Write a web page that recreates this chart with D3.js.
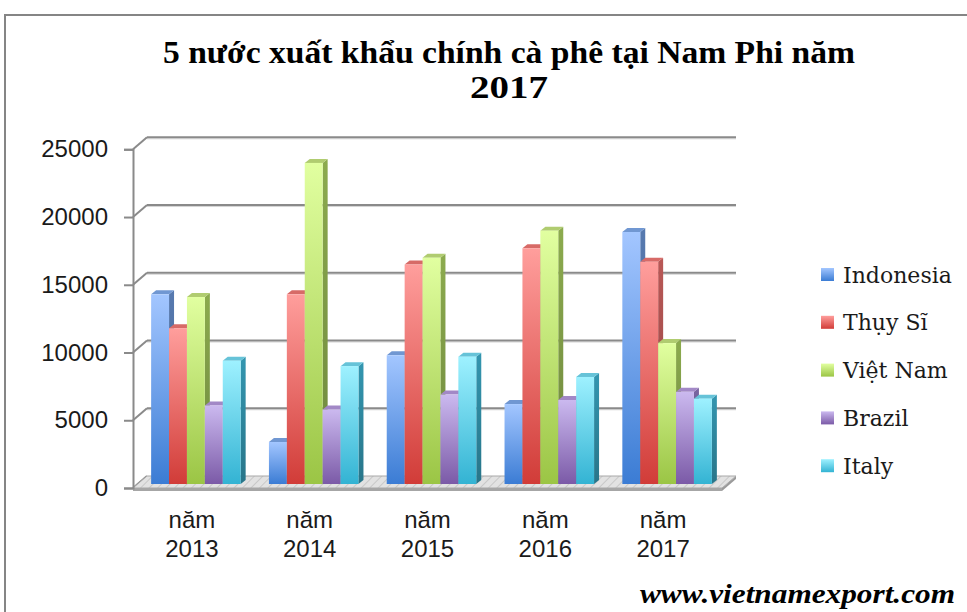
<!DOCTYPE html>
<html>
<head>
<meta charset="utf-8">
<script src="https://cdn.jsdelivr.net/npm/d3@7/dist/d3.min.js"></script>
<style>
    body { margin: 0; background: #fff; }
    svg { display: block; }
</style>
</head>
<body>
<svg id="chart"></svg>
<script>
var years = ["2013", "2014", "2015", "2016", "2017"];
var yearPrefix = "năm";
var countries = ["Indonesia", "Thụy Sĩ", "Việt Nam", "Brazil", "Italy"];
var indonesia = [14000, 3100, 9500, 5900, 18600];
var thuySi = [11500, 14000, 16200, 17400, 16400];
var vietNam = [13800, 23700, 16700, 18700, 10400];
var brazil = [5800, 5500, 6600, 6200, 6800];
var italy = [9100, 8700, 9400, 7900, 6300];
var yTicks = [0, 5000, 10000, 15000, 20000, 25000];
var titleLines = ["5 nước xuất khẩu chính cà phê tại Nam Phi năm", "2017"];
var watermark = "www.vietnamexport.com";

var seriesValues = [indonesia, thuySi, vietNam, brazil, italy];

// colours per series: front top, front bottom, side, top face
var palette = [
    {hi: "#a3c6ff", lo: "#3b7cd4", side: "#4e6e9e", top: "#7097d2"},
    {hi: "#ff9e9c", lo: "#d13c38", side: "#a64f4d", top: "#d76a67"},
    {hi: "#e1ffa0", lo: "#9bc545", side: "#7e9a46", top: "#b0cc70"},
    {hi: "#cbb9ef", lo: "#7b5aa7", side: "#6e5b91", top: "#a288c6"},
    {hi: "#9ef1ff", lo: "#33b3d3", side: "#2e879e", top: "#66c3d8"}
];

var width = 967, height = 612;
var svg = d3.select("#chart").attr("width", width).attr("height", height);

var front = {left: 133, right: 722, bottom: 488, top: 149.3};
var depth = {dx: 14, dy: 12};
var barOff = {dx: 4, dy: 4};
var barDepth = {dx: 5, dy: 4};

var x = d3.scaleBand().domain(years).range([front.left, front.right]).paddingInner(0.24).paddingOuter(0.12);
var xSub = d3.scaleBand().domain(countries).range([0, x.bandwidth()]);
var y = d3.scaleLinear().domain([0, 25000]).range([front.bottom, front.top]);

var defs = svg.append("defs");
palette.forEach(function (c, i) {
    var g = defs.append("linearGradient").attr("id", "front" + i)
        .attr("x1", 0).attr("y1", 0).attr("x2", 0).attr("y2", 1);
    g.append("stop").attr("offset", "0%").attr("stop-color", c.hi);
    g.append("stop").attr("offset", "100%").attr("stop-color", c.lo);
    var s = defs.append("linearGradient").attr("id", "side" + i)
        .attr("x1", 0).attr("y1", 0).attr("x2", 0).attr("y2", 1);
    s.append("stop").attr("offset", "0%").attr("stop-color", d3.color(c.side).brighter(0.3));
    s.append("stop").attr("offset", "100%").attr("stop-color", d3.color(c.side).darker(0.4));
});
var pat = defs.append("pattern").attr("id", "floorPat").attr("patternUnits", "userSpaceOnUse")
    .attr("width", 6).attr("height", 6).attr("patternTransform", "rotate(45)");
pat.append("rect").attr("width", 6).attr("height", 6).attr("fill", "#e2e2e2");
pat.append("line").attr("x1", 0).attr("y1", 0).attr("x2", 0).attr("y2", 6)
    .attr("stroke", "#c8c8c8").attr("stroke-width", 2);

// outer frame
svg.append("path").attr("d", "M5,612 L5,15 L967,15")
    .attr("fill", "none").attr("stroke", "#858585").attr("stroke-width", 2);

// title
svg.selectAll(".title").data(titleLines).enter().append("text")
    .attr("class", "title")
    .attr("x", 509)
    .attr("y", function (d, i) { return i == 0 ? 63 : 98; })
    .attr("text-anchor", "middle")
    .attr("font-family", "Liberation Serif, serif")
    .attr("font-weight", "bold")
    .attr("font-size", 31)
    .attr("fill", "#000")
    .attr("textLength", function (d, i) { return i == 0 ? 692 : 78; })
    .attr("lengthAdjust", "spacingAndGlyphs")
    .text(function (d) { return d; });

// back wall gridlines + side wall lines
var grid = svg.append("g");
yTicks.forEach(function (t) {
    var yf = y(t), yb = y(t) - depth.dy;
    if (t > 0) {
        grid.append("line")
            .attr("x1", front.left + depth.dx).attr("x2", front.right + depth.dx)
            .attr("y1", yb + 1.5).attr("y2", yb + 1.5)
            .attr("stroke", "#d4d4d4").attr("stroke-width", 1);
        grid.append("line")
            .attr("x1", front.left + depth.dx).attr("x2", front.right + depth.dx)
            .attr("y1", yb).attr("y2", yb)
            .attr("stroke", "#8a8a8a").attr("stroke-width", 2);
    }
    grid.append("line")
        .attr("x1", front.left).attr("y1", yf)
        .attr("x2", front.left + depth.dx).attr("y2", yb)
        .attr("stroke", "#8a8a8a").attr("stroke-width", 2);
});

// floor
var floorPts = [
    [front.left, front.bottom], [front.right, front.bottom],
    [front.right + depth.dx, front.bottom - depth.dy], [front.left + depth.dx, front.bottom - depth.dy]
];
svg.append("polygon")
    .attr("points", [[front.left, front.bottom], [front.right, front.bottom],
        [front.right, front.bottom + 3], [front.left, front.bottom + 3]].join(" "))
    .attr("fill", "#a6a6a6");
svg.append("polygon")
    .attr("points", [[front.right, front.bottom], [front.right + depth.dx, front.bottom - depth.dy],
        [front.right + depth.dx, front.bottom - depth.dy + 3], [front.right, front.bottom + 3]].join(" "))
    .attr("fill", "#9a9a9a");
svg.append("polygon").attr("points", floorPts.join(" "))
    .attr("fill", "url(#floorPat)").attr("stroke", "#a8a8a8").attr("stroke-width", 1);

// y axis
var yAxis = d3.axisLeft(y).tickValues(yTicks).tickSize(9).tickPadding(16).tickFormat(d3.format("d"));
var ya = svg.append("g").attr("transform", "translate(" + front.left + ",0)").call(yAxis);
ya.select(".domain").attr("stroke", "#8a8a8a").attr("stroke-width", 2);
ya.selectAll(".tick line").attr("stroke", "#8a8a8a").attr("stroke-width", 2);
ya.selectAll(".tick text")
    .attr("font-family", "Liberation Sans, Arial, sans-serif")
    .attr("font-size", 24).attr("fill", "#1a1a1a");

// bars
var bars = svg.append("g");
years.forEach(function (yr, j) {
    countries.forEach(function (c, i) {
        var v = seriesValues[i][j];
        var bx = x(yr) + xSub(c) + barOff.dx;
        var bw = xSub.bandwidth();
        var yb = y(0) - barOff.dy;
        var yt = y(v) - barOff.dy;
        var g = bars.append("g");
        g.append("polygon")
            .attr("points", [[bx + bw, yt], [bx + bw + barDepth.dx, yt - barDepth.dy],
                [bx + bw + barDepth.dx, yb - barDepth.dy], [bx + bw, yb]].join(" "))
            .attr("fill", "url(#side" + i + ")");
        g.append("polygon")
            .attr("points", [[bx, yt], [bx + barDepth.dx, yt - barDepth.dy],
                [bx + bw + barDepth.dx, yt - barDepth.dy], [bx + bw, yt]].join(" "))
            .attr("fill", palette[i].top);
        g.append("rect")
            .attr("x", bx).attr("y", yt)
            .attr("width", bw).attr("height", yb - yt)
            .attr("fill", "url(#front" + i + ")");
    });
});

// x labels
var xl = svg.append("g");
years.forEach(function (yr) {
    var t = xl.append("text")
        .attr("x", x(yr) + x.bandwidth() / 2)
        .attr("text-anchor", "middle")
        .attr("font-family", "Liberation Sans, Arial, sans-serif")
        .attr("font-size", 24).attr("fill", "#1a1a1a");
    t.append("tspan").attr("x", x(yr) + x.bandwidth() / 2).attr("y", 528).text(yearPrefix);
    t.append("tspan").attr("x", x(yr) + x.bandwidth() / 2).attr("y", 557).text(yr);
});

// legend
var legend = svg.append("g");
countries.forEach(function (c, i) {
    var cy = 274.5 + i * 47.8;
    legend.append("rect")
        .attr("x", 821).attr("y", cy - 6.5)
        .attr("width", 13).attr("height", 13)
        .attr("fill", "url(#front" + i + ")");
    legend.append("text")
        .attr("x", 843).attr("y", cy + 8)
        .attr("font-family", "DejaVu Serif, serif")
        .attr("font-size", 22).attr("fill", "#1a1a1a")
        .text(c);
});

// watermark
svg.append("text")
    .attr("x", 955).attr("y", 603)
    .attr("text-anchor", "end")
    .attr("font-family", "Liberation Serif, serif")
    .attr("font-weight", "bold").attr("font-style", "italic")
    .attr("font-size", 27).attr("fill", "#000")
    .attr("textLength", 315).attr("lengthAdjust", "spacingAndGlyphs")
    .text(watermark);
</script>
</body>
</html>
